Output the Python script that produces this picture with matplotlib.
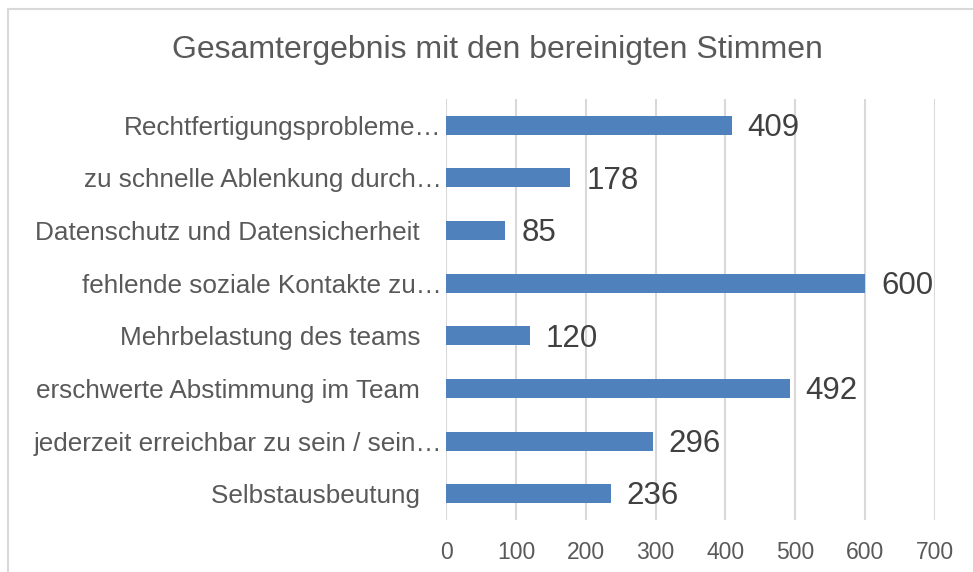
import matplotlib
matplotlib.use("Agg")
import matplotlib.pyplot as plt
from matplotlib.patches import Rectangle

plt.rcParams['font.family'] = ['Liberation Sans', 'DejaVu Sans']

# Kategorien von unten nach oben
categories = [
    "Selbstausbeutung   ",
    "jederzeit erreichbar zu sein / sein…",
    "erschwerte Abstimmung im Team   ",
    "Mehrbelastung des teams   ",
    "fehlende soziale Kontakte zu…",
    "Datenschutz und Datensicherheit   ",
    "zu schnelle Ablenkung durch…",
    "Rechtfertigungsprobleme…",
]
votes = [236, 296, 492, 120, 600, 85, 178, 409]
xticks = [0, 100, 200, 300, 400, 500, 600, 700]

bar_color = "#4F81BD"
grid_color = "#D9D9D9"
text_color = "#595959"

fig = plt.figure(figsize=(9.73, 5.72), dpi=100)
ax = fig.add_axes([0.4584, 0.0909, 0.5026, 0.736])

y = list(range(len(categories)))
ax.barh(y, votes, height=0.36, color=bar_color, zorder=3)
for yi, v in zip(y, votes):
    ax.annotate(str(v), (v, yi), xytext=(11.5, 0.5), textcoords="offset points",
                va="center_baseline", ha="left", fontsize=22.5, color="#404040")

ax.set_xlim(0, 700)
ax.set_ylim(-0.5, len(categories) - 0.5)
ax.set_xticks(xticks)
ax.set_yticks(y)
ax.set_yticklabels(categories, fontsize=18.8)
ax.tick_params(axis="both", length=0, labelcolor=text_color)
ax.tick_params(axis="x", pad=15, labelsize=16.5)
ax.tick_params(axis="y", pad=3)
ax.grid(axis="x", color=grid_color, linewidth=1.5, zorder=0)
for s in ax.spines.values():
    s.set_visible(False)

fig.text(0.511, 0.913, "Gesamtergebnis mit den bereinigten Stimmen",
         ha="center", va="center", fontsize=23, color=text_color)

fig.patches.append(Rectangle((8 / 973, -0.05), 1.1, 1.05 - 9 / 572,
                             transform=fig.transFigure, fill=False,
                             edgecolor=grid_color, linewidth=1.5))

fig.savefig("out.png", dpi=100, facecolor="white")
